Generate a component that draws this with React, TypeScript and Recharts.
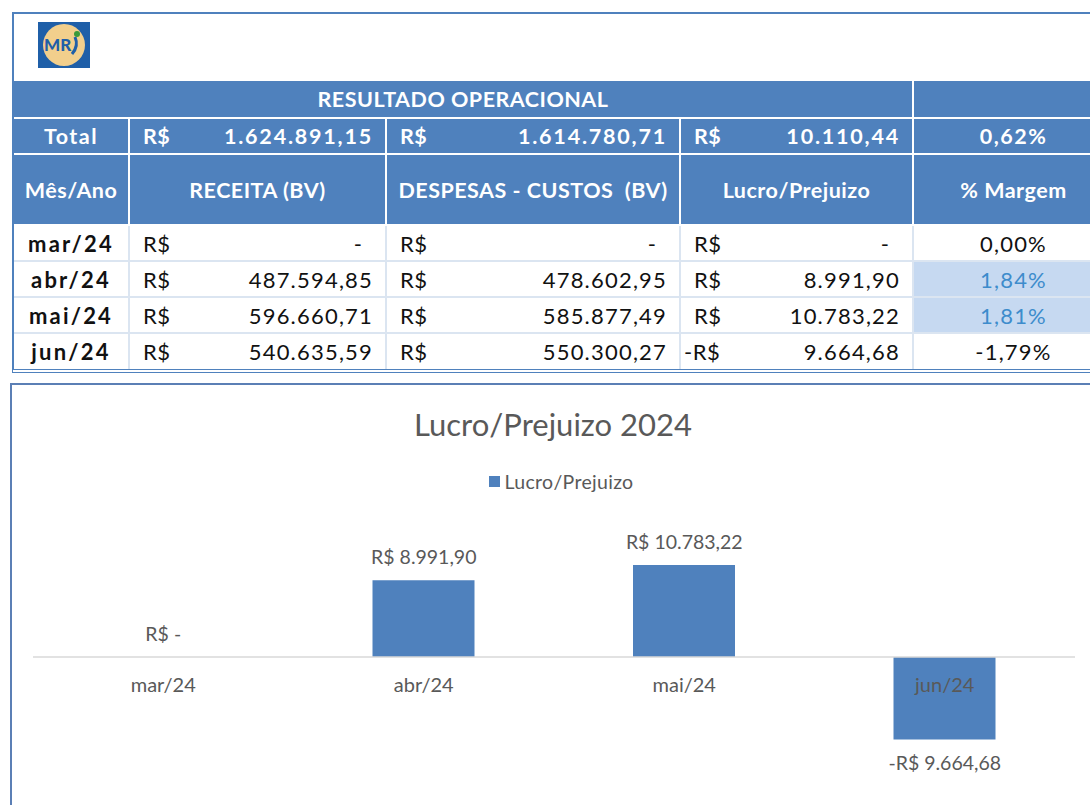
import React from "react";
import {
  Bar,
  ComposedChart,
  LabelList,
  Legend,
  Line,
  ReferenceDot,
  ReferenceLine,
  XAxis,
  YAxis,
} from "recharts";

const months = ["mar/24", "abr/24", "mai/24", "jun/24"];
const receita = [0, 487594.85, 596660.71, 540635.59];
const despesas = [0, 478602.95, 585877.49, 550300.27];
const lucro = [0, 8991.9, 10783.22, -9664.68];
const margem = [0, 1.84, 1.81, -1.79];
const highlighted = [false, true, true, false];

const totalReceita = 1624891.15;
const totalDespesas = 1614780.71;
const totalLucro = 10110.44;
const totalMargem = 0.62;

const FONT = "Lato, 'Open Sans', sans-serif";
const BLUE = "#4f81bd";
const GRAY = "#595959";

function fmt(n: number) {
  const [int, dec] = Math.abs(n).toFixed(2).split(".");
  return int.replace(/\B(?=(\d{3})+(?!\d))/g, ".") + "," + dec;
}

function brl(v: number) {
  if (v === 0) return "R$ -";
  if (v < 0) return "-R$ " + fmt(v);
  return "R$ " + fmt(v);
}

const chartData = months.map((m, i) => ({ month: m, lucro: lucro[i] }));

const headCell: React.CSSProperties = {
  background: BLUE,
  color: "#fff",
  fontWeight: 700,
  fontSize: 21.5,
  letterSpacing: 0.5,
  border: "2px solid #fff",
  textAlign: "center",
  padding: 0,
};

const dataCell: React.CSSProperties = {
  border: "2px solid #dbe5f1",
  fontSize: 22,
  letterSpacing: 1.2,
  color: "#111",
  padding: 0,
};

function Money({ v, prefix = "R$", bold }: { v: number; prefix?: string; bold?: boolean }) {
  return (
    <div
      style={{
        display: "flex",
        justifyContent: "space-between",
        padding: "0 12px 0 13px",
        fontWeight: bold ? 700 : 400,
        letterSpacing: bold ? 1.8 : 1.2,
      }}
    >
      <span style={{ marginLeft: prefix.startsWith("-") ? -10 : 0, letterSpacing: 0.5 }}>{prefix}</span>
      <span style={{ marginRight: v === 0 ? 10 : 0 }}>{v === 0 ? "-" : fmt(v)}</span>
    </div>
  );
}

function Logo() {
  return (
    <svg width={52} height={46} style={{ position: "absolute", left: 24, top: 8 }}>
      <rect width={52} height={46} fill="#1f5fa8" />
      <circle cx={26} cy={23} r={21} fill="#f2cf8c" />
      <text x={6} y={29} fontSize={17} fontWeight={900} fill="#1f5fa8" fontFamily={FONT}>
        MR
      </text>
      <path d="M34 32 q7 -8 3 -17" stroke="#1f5fa8" strokeWidth={3} fill="none" />
      <circle cx={39} cy={12} r={3} fill="#3a9a3a" />
    </svg>
  );
}

function ResultTable() {
  const last = months.length - 1;
  return (
    <div
      style={{
        position: "absolute",
        left: 12,
        top: 12,
        width: 1100,
        border: `2px solid ${BLUE}`,
        borderBottom: `4px double ${BLUE}`,
        background: "#fff",
        fontFamily: FONT,
      }}
    >
      <div style={{ position: "relative", height: 67 }}>
        <Logo />
      </div>
      <table style={{ borderCollapse: "collapse", tableLayout: "fixed", width: 1100 }}>
        <colgroup>
          <col style={{ width: 115 }} />
          <col style={{ width: 257 }} />
          <col style={{ width: 294 }} />
          <col style={{ width: 233 }} />
          <col style={{ width: 201 }} />
        </colgroup>
        <tbody>
          <tr style={{ height: 37 }}>
            <td colSpan={4} style={{ ...headCell, borderTop: "none", borderLeft: "none" }}>
              RESULTADO OPERACIONAL
            </td>
            <td style={{ ...headCell, borderTop: "none" }} />
          </tr>
          <tr style={{ height: 36 }}>
            <td style={{ ...headCell, borderLeft: "none", letterSpacing: 1.5 }}>Total</td>
            <td style={headCell}>
              <Money v={totalReceita} bold />
            </td>
            <td style={headCell}>
              <Money v={totalDespesas} bold />
            </td>
            <td style={headCell}>
              <Money v={totalLucro} bold />
            </td>
            <td style={{ ...headCell, letterSpacing: 1.5 }}>{fmt(totalMargem)}%</td>
          </tr>
          <tr style={{ height: 71 }}>
            <td style={{ ...headCell, borderLeft: "none" }}>Mês/Ano</td>
            <td style={headCell}>RECEITA (BV)</td>
            <td style={headCell}>DESPESAS - CUSTOS&nbsp; (BV)</td>
            <td style={headCell}>Lucro/Prejuizo</td>
            <td style={headCell}>% Margem</td>
          </tr>
          {months.map((m, i) => {
            const bb = i === last ? "none" : dataCell.border;
            return (
              <tr key={m} style={{ height: 36 }}>
                <td
                  style={{
                    ...dataCell,
                    borderLeft: "none",
                    fontWeight: 700,
                    letterSpacing: 2.2,
                    textAlign: "center",
                    borderBottom: bb,
                  }}
                >
                  {m}
                </td>
                <td style={{ ...dataCell, borderBottom: bb }}>
                  <Money v={receita[i]} />
                </td>
                <td style={{ ...dataCell, borderBottom: bb }}>
                  <Money v={despesas[i]} />
                </td>
                <td style={{ ...dataCell, borderBottom: bb }}>
                  <Money v={Math.abs(lucro[i])} prefix={lucro[i] < 0 ? "-R$" : "R$"} />
                </td>
                <td
                  style={{
                    ...dataCell,
                    textAlign: "center",
                    background: highlighted[i] ? "#c6d9f1" : "#fff",
                    color: highlighted[i] ? "#3d8ccc" : "#111",
                    borderBottom: bb,
                  }}
                >
                  {margem[i] < 0 ? "-" : ""}
                  {fmt(margem[i])}%
                </td>
              </tr>
            );
          })}
        </tbody>
      </table>
    </div>
  );
}

function LegendContent() {
  return (
    <div style={{ height: 60, display: "flex", justifyContent: "center", fontFamily: FONT }}>
      <div style={{ display: "flex", alignItems: "center", height: 24, marginLeft: 14 }}>
        <span style={{ width: 11, height: 11, background: BLUE, display: "inline-block" }} />
        <span style={{ marginLeft: 5, fontSize: 19.5, letterSpacing: 0.3, color: GRAY }}>Lucro/Prejuizo</span>
      </div>
    </div>
  );
}

function ValueLabel(props: any) {
  const { x, y, value } = props;
  const below = value < 0;
  return (
    <text
      x={x}
      y={below ? y + 16 : y - 16}
      dy={below ? "0.72em" : 0}
      textAnchor="middle"
      fill={GRAY}
      fontSize={19.5}
      fontFamily={FONT}
    >
      {brl(value)}
    </text>
  );
}

function ProfitChart() {
  return (
    <div
      style={{
        position: "absolute",
        left: 10,
        top: 383,
        width: 1100,
        height: 440,
        border: "2px solid #5b7fb5",
        background: "#fff",
      }}
    >
      <div
        style={{
          position: "absolute",
          left: 0,
          top: 20,
          width: 1082,
          textAlign: "center",
          fontFamily: FONT,
          fontSize: 31,
          color: GRAY,
        }}
      >
        Lucro/Prejuizo 2024
      </div>
      <ComposedChart
        width={1080}
        height={420}
        data={chartData}
        margin={{ top: 84, right: 17, left: 21, bottom: 20 }}
      >
        <XAxis dataKey="month" hide />
        <YAxis hide domain={[-15000, 15000]} />
        <Legend verticalAlign="top" content={() => <LegendContent />} />
        <ReferenceLine y={0} stroke="#d9d9d9" strokeWidth={1.5} />
        <Bar dataKey="lucro" fill={BLUE} barSize={102} isAnimationActive={false} />
        <Line
          dataKey="lucro"
          stroke="none"
          dot={false}
          activeDot={false}
          legendType="none"
          isAnimationActive={false}
        >
          <LabelList dataKey="lucro" content={<ValueLabel />} />
        </Line>
        {months.map((m) => (
          <ReferenceDot
            key={m}
            x={m}
            y={0}
            r={0}
            fill="none"
            stroke="none"
            label={{ value: m, position: "bottom", offset: 21, fill: GRAY, fontSize: 20, fontFamily: FONT }}
          />
        ))}
      </ComposedChart>
    </div>
  );
}

export default function App() {
  return (
    <div
      style={{
        position: "absolute",
        left: 0,
        top: 0,
        width: 1090,
        height: 805,
        overflow: "hidden",
        background: "#fff",
      }}
    >
      <ResultTable />
      <ProfitChart />
    </div>
  );
}
